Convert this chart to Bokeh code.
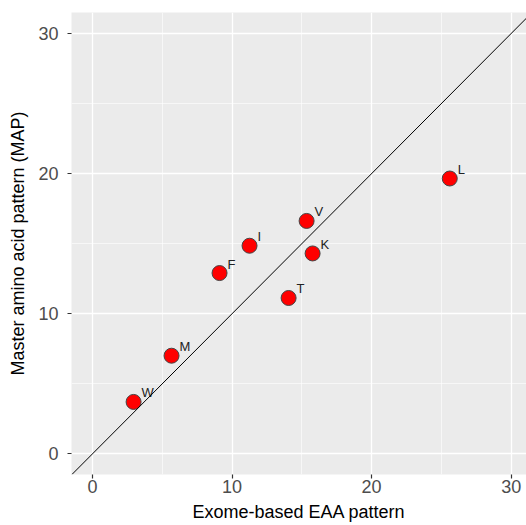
from bokeh.plotting import figure
from bokeh.models import ColumnDataSource, SingleIntervalTicker, Slope, Range1d
from bokeh.core.properties import value
from bokeh.embed import file_html
from bokeh.resources import INLINE

# Data
amino_acids = ["W", "M", "F", "I", "V", "K", "T", "L"]
exome_eaa = [2.94, 5.66, 9.10, 11.25, 15.34, 15.77, 14.05, 25.60]
map_pattern = [3.70, 7.00, 12.90, 14.85, 16.62, 14.30, 11.12, 19.65]
x_ticks = [0, 10, 20, 30]
y_ticks = [0, 10, 20, 30]

src = ColumnDataSource(dict(x=exome_eaa, y=map_pattern, label=amino_acids))

FONT = "Liberation Sans"

p = figure(width=526, height=525, output_backend="svg", toolbar_location=None,
           x_range=Range1d(-1.51, 31.1), y_range=Range1d(-1.48, 31.5),
           min_border_left=71, min_border_right=0, min_border_top=12, min_border_bottom=51)

p.background_fill_color = "#EBEBEB"
p.border_fill_color = "white"
p.outline_line_color = None

for ax, ticks in ((p.xaxis, x_ticks), (p.yaxis, y_ticks)):
    ax.ticker = SingleIntervalTicker(interval=10, num_minor_ticks=2)
    ax.axis_line_color = None
    ax.major_tick_line_color = "#333333"
    ax.major_tick_line_width = 1.2
    ax.major_tick_in = 0
    ax.major_tick_out = 4
    ax.minor_tick_line_color = None
    ax.major_label_text_font = FONT
    ax.major_label_text_font_size = "18px"
    ax.major_label_text_color = "#4D4D4D"
    ax.axis_label_text_font = FONT
    ax.axis_label_text_font_size = "18px"
    ax.axis_label_text_font_style = "normal"
    ax.axis_label_text_color = "black"

p.xaxis.axis_label = "Exome-based EAA pattern"
p.yaxis.axis_label = "Master amino acid pattern (MAP)"
p.xaxis.major_label_standoff = 1
p.xaxis.axis_label_standoff = 6
p.yaxis.major_label_standoff = 9
p.yaxis.axis_label_standoff = 7

for g in (p.xgrid, p.ygrid):
    g.grid_line_color = "white"
    g.grid_line_width = 1.3
    g.minor_grid_line_color = "white"
    g.minor_grid_line_width = 0.6

p.add_layout(Slope(gradient=1, y_intercept=0, line_color="black", line_width=1))

p.scatter("x", "y", source=src, size=15, fill_color="red", line_color="#444444", line_width=1)
p.text("x", "y", text="label", source=src, x_offset=8, y_offset=-9,
       text_font=value(FONT), text_font_size="13px", text_color="#222222",
       text_align="left", text_baseline="middle")

open("out.html", "w").write(file_html(p, INLINE))
